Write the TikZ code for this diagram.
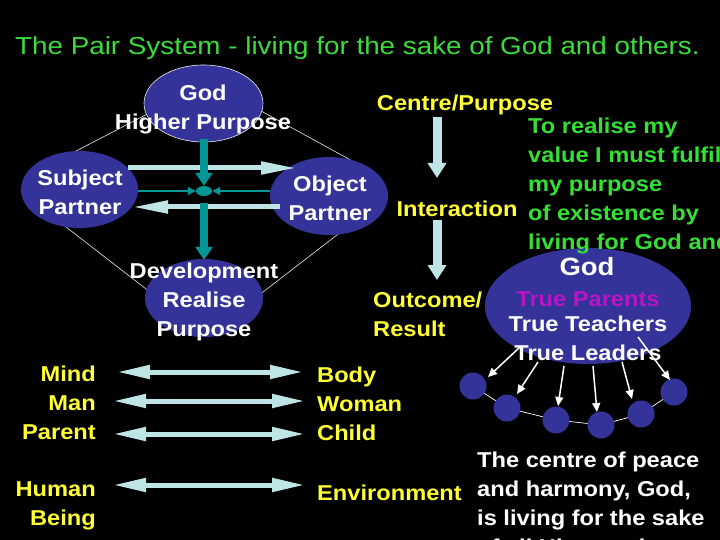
\documentclass[tikz,border=0pt]{standalone}
\usepackage{fontspec}
\setmainfont{Liberation Sans}
\newfontfamily\titlefont{Liberation Sans}[FakeStretch=1.13]
\newfontfamily\bfam{Liberation Sans}[FakeStretch=1.1]
\usetikzlibrary{shapes.geometric,arrows.meta}
\definecolor{bgblue}{RGB}{51,51,153}
\definecolor{tealc}{RGB}{0,150,150}
\definecolor{cyanl}{RGB}{190,228,230}
\definecolor{yel}{RGB}{255,255,51}
\definecolor{grn}{RGB}{51,224,51}
\definecolor{ttl}{RGB}{60,220,60}
\definecolor{mag}{RGB}{185,20,200}
\begin{document}
\begin{tikzpicture}[x=1pt,y=-1pt,
  blob/.style={ellipse, fill=bgblue, inner sep=0},
  txt/.style={font=\bfam\bfseries\fontsize{21.5}{29}\selectfont, inner sep=0, anchor=north, yshift=7.6pt, execute at begin node=\strut},
  diag/.style={draw=white!85!gray, line width=0.6pt},
  tealarrow/.style={draw=tealc, line width=8pt, -{Triangle[length=13pt,width=17pt]}},
  tealthin/.style={draw=tealc, line width=2pt, -{Triangle[length=8pt,width=8pt]}},
  cyanh/.style={draw=cyanl, line width=5pt, -{Triangle[length=36pt,width=12pt]}},
  cyanv/.style={draw=cyanl, line width=9pt, -{Triangle[length=15pt,width=18pt]}},
  dbl/.style={draw=cyanl, line width=5pt, {Triangle[length=33pt,width=13pt]}-{Triangle[length=33pt,width=13pt]}},
  warr/.style={draw=white, line width=1.5pt, -{Triangle[length=9pt,width=8pt]}},
  dot/.style={circle, fill=bgblue, minimum size=27pt, inner sep=0}
]
\fill[black] (0,0) rectangle (720,540);
\useasboundingbox (0,0) rectangle (720,540);
\clip (0,0) rectangle (720,540);

% title
\node[font=\titlefont\fontsize{24.6}{29}\selectfont, text=ttl, anchor=base west, inner sep=0] (title) at (15,54.3) {The Pair System - living for the sake of God and others.};

% diamond lines
\coordinate (d1a) at (60,159.3); \coordinate (d1b) at (150,112.7);
\coordinate (d2a) at (250,104.9); \coordinate (d2b) at (360,165.2);
\coordinate (d3a) at (60,222.3); \coordinate (d3b) at (160,299.8);
\coordinate (d4a) at (345,228.8); \coordinate (d4b) at (250,302);
\draw[diag] (d1a) -- (d1b);
\draw[diag] (d2a) -- (d2b);
\draw[diag] (d3a) -- (d3b);
\draw[diag] (d4a) -- (d4b);

% ellipses
\node[blob, draw=white!85!gray, line width=0.6pt, minimum width=119pt, minimum height=77pt] (egod) at (203.5,103.5) {};
\node[blob, minimum width=117pt, minimum height=77pt] (esub) at (79.5,189.5) {};
\node[blob, minimum width=118pt, minimum height=78pt] (eobj) at (329,196) {};
\node[blob, minimum width=118pt, minimum height=78pt] (edev) at (204,298) {};

% cyan horizontal arrows
\coordinate (u1) at (128,168); \coordinate (u2) at (297,168);
\coordinate (l1) at (280,207); \coordinate (l2) at (132,207);
\draw[cyanh] (u1) -- (u2);
\draw[cyanh] (l1) -- (l2);

% hub and teal arrows
\node[ellipse, fill=tealc, minimum width=16pt, minimum height=10pt, inner sep=0] (hub) at (204,191) {};
\draw[tealthin] (esub.east |- hub) -- (hub.west);
\draw[tealthin] (eobj.west |- hub) -- (hub.east);
\draw[tealarrow] (204,139) -- (hub.north);
\draw[tealarrow] ([yshift=-7pt]hub.south) -- ([yshift=-1pt]edev.north);

% texts in ellipses
\node[txt, text=white, align=center] (tgod) at (203,92) {God\\Higher Purpose};
\node[txt, text=white, align=center] (tsub) at (80,177) {Subject\\Partner};
\node[txt, text=white, align=center] (tobj) at (330,183) {Object\\Partner};
\node[txt, text=white, align=center] (tdev) at (204,270) {Development\\Realise\\Purpose};

% centre column
\node[txt, text=yel] (tcen) at (465,98) {Centre/Purpose};
\node[txt, text=yel] (tint) at (457,204) {Interaction};
\node[txt, text=yel, anchor=north west, align=left] (tout) at (373,299) {Outcome/\\Result};
\coordinate (v1) at (437,117); \coordinate (v2) at (437,178);
\coordinate (v3) at (437,220); \coordinate (v4) at (437,280);
\draw[cyanv] (v1) -- (v2);
\draw[cyanv] (v3) -- (v4);

% big ellipse and circles
\node[blob, minimum width=206pt, minimum height=116pt] (ebig) at (588,306) {};
\node[txt, text=white, font=\bfam\bfseries\fontsize{25}{29}\selectfont, yshift=2pt] (bgod) at (587,265) {God};
\node[txt, text=mag] (tpar) at (588,294) {True Parents};
\node[txt, text=white, align=center] (ttea) at (588,323) {True Teachers\\True Leaders};

% green block (on top of the big ellipse)
\node[txt, text=grn, anchor=north west, align=left] (tgrn) at (528,125) {To realise my\\value I must fulfil\\my purpose\\of existence by\\living for God and};

\coordinate (k1) at (473,386); \coordinate (k2) at (507,408); \coordinate (k3) at (556,420);
\coordinate (k4) at (601,425); \coordinate (k5) at (641,414); \coordinate (k6) at (674,392);
\draw[white, line width=0.7pt] (k1) -- (k2) -- (k3) -- (k4) -- (k5) -- (k6);
\node[dot] (c1) at (k1) {};
\node[dot] (c2) at (k2) {};
\node[dot] (c3) at (k3) {};
\node[dot] (c4) at (k4) {};
\node[dot] (c5) at (k5) {};
\node[dot] (c6) at (k6) {};

\coordinate (a1s) at (520,347); \coordinate (a1e) at (488,377);
\coordinate (a2s) at (538,362); \coordinate (a2e) at (517,394);
\coordinate (a3s) at (564,366); \coordinate (a3e) at (558,406);
\coordinate (a4s) at (593,366); \coordinate (a4e) at (597,412);
\coordinate (a5s) at (622,362); \coordinate (a5e) at (632,399);
\coordinate (a6s) at (638,337); \coordinate (a6e) at (670,380);
\draw[warr] (a1s) -- (a1e);
\draw[warr] (a2s) -- (a2e);
\draw[warr] (a3s) -- (a3e);
\draw[warr] (a4s) -- (a4e);
\draw[warr] (a5s) -- (a5e);
\draw[warr] (a6s) -- (a6e);

% bottom-right text
\node[txt, text=white, anchor=north west, align=left] (tpeace) at (477,459) {The centre of peace\\and harmony, God,\\is living for the sake\\of all His creation};

% pairs
\node[txt, text=yel, anchor=north east, align=right] (tmind) at (96,373) {Mind\\Man\\Parent};
\node[txt, text=yel, anchor=north east, align=right] (thum) at (96,489) {Human\\Being};
\node[txt, text=yel, anchor=north west, align=left] (tbody) at (317,374) {Body\\Woman\\Child};
\node[txt, text=yel, anchor=north west, align=left] (tenv) at (317,488) {Environment};

\coordinate (p1a) at (117,372); \coordinate (p1b) at (303,372);
\coordinate (p2a) at (113,401); \coordinate (p2b) at (305,401);
\coordinate (p3a) at (113,434); \coordinate (p3b) at (305,434);
\coordinate (p4a) at (113,485); \coordinate (p4b) at (305,485);
\draw[dbl] (p1a) -- (p1b);
\draw[dbl] (p2a) -- (p2b);
\draw[dbl] (p3a) -- (p3b);
\draw[dbl] (p4a) -- (p4b);
\end{tikzpicture}
\end{document}
